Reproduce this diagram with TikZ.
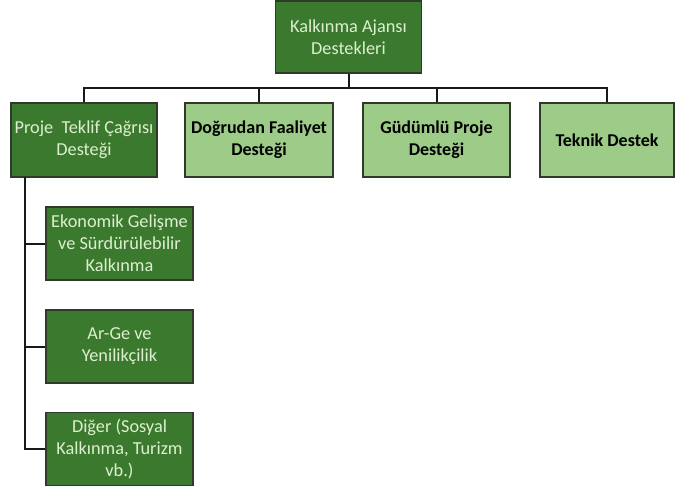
\documentclass[tikz,border=0pt]{standalone}
\usepackage{fontspec}
\setmainfont{Carlito}
\definecolor{dkg}{HTML}{3B7A2E}
\definecolor{ltg}{HTML}{9DCB88}
\definecolor{dtxt}{HTML}{DDEFCF}
\definecolor{bord}{HTML}{2E3A2A}
\begin{document}
\begin{tikzpicture}[x=1pt,y=-1pt,
  box/.style={draw=bord,line width=1.1pt,align=center,inner sep=0pt,font=\fontsize{18.3}{22}\selectfont},
  dark/.style={box,fill=dkg,text=dtxt},
  light/.style={box,fill=ltg,text=black,font=\fontsize{18}{22}\selectfont\bfseries},
  conn/.style={draw=black!90,line width=2pt}]
\useasboundingbox (0,0) rectangle (676,490);
\node[dark,minimum width=146pt,minimum height=72pt] (top) at (348.5,37) {Kalkınma Ajansı\\Destekleri};
\node[dark,minimum width=146pt,minimum height=74pt] (p1) at (84,140) {Proje\ \ Teklif Çağrısı\\Desteği};
\node[light,minimum width=148pt,minimum height=74pt] (p2) at (259,140) {Doğrudan Faaliyet\\Desteği};
\node[light,minimum width=147pt,minimum height=74pt] (p3) at (436.5,140) {Güdümlü Proje\\Desteği};
\node[light,minimum width=134pt,minimum height=74pt] (p4) at (607,140) {Teknik Destek};
\node[dark,minimum width=147pt,minimum height=73pt] (s1) at (119.5,243.5) {Ekonomik Gelişme\\ve Sürdürülebilir\\Kalkınma};
\node[dark,minimum width=147pt,minimum height=73pt] (s2) at (119.5,346.5) {Ar-Ge ve\\Yenilikçilik};
\node[dark,minimum width=147pt,minimum height=73pt] (s3) at (119.5,449) {Diğer (Sosyal\\Kalkınma, Turizm\\vb.)};
\coordinate (bus) at (348.5,88);
\draw[conn] (top.south) -- (bus);
\draw[conn] (p1.north) |- (bus) -| (p4.north);
\draw[conn] (p2.north) -- (p2.north |- bus);
\draw[conn] (p3.north) -- (p3.north |- bus);
\coordinate (trunk) at (25,177);
\draw[conn] (trunk) |- (s3.west);
\draw[conn] (trunk |- s1.west) -- (s1.west);
\draw[conn] (trunk |- s2.west) -- (s2.west);
\end{tikzpicture}
\end{document}
